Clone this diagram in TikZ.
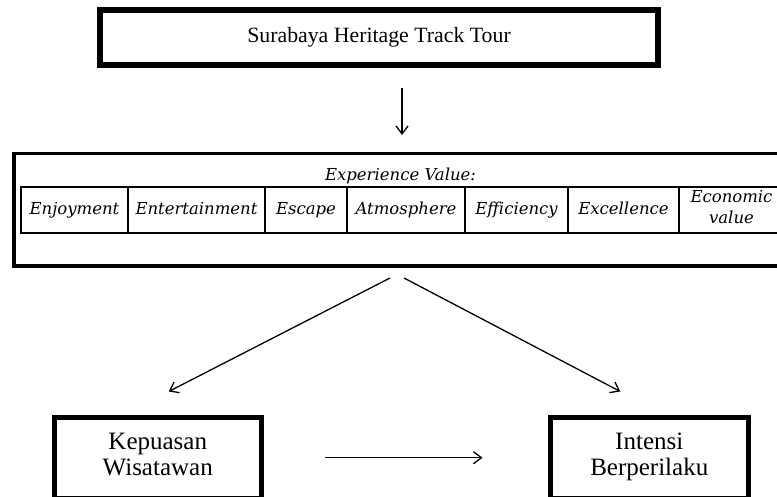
\documentclass[tikz,border=0pt]{standalone}
\usepackage{fontspec}
\setmainfont{Liberation Serif}
\newfontfamily\cellfont{DejaVu Serif}
\usetikzlibrary{arrows.meta, positioning, calc}

\begin{document}
\begin{tikzpicture}[x=1pt, y=-1pt,
    heavybox/.style={rectangle, draw, line width=6pt, align=center, inner sep=0pt},
    framebox/.style={rectangle, draw, line width=3.5pt, inner sep=0pt},
    cell/.style={rectangle, draw, line width=1.3pt, minimum height=46pt, inner sep=0pt, outer sep=0pt, align=center, font=\cellfont\itshape\fontsize{16.5}{21}\selectfont, execute at begin node=\strut},
    arr/.style={-{Straight Barb[length=8pt, width=12pt]}, line width=1.3pt}
]
\clip (0,0) rectangle (777,497);
\node[heavybox, minimum width=558pt, minimum height=55pt, font=\fontsize{21.8}{26}\selectfont] (tour) at (379,37.5) {Surabaya Heritage Track Tour};

\node[framebox, minimum width=776pt, minimum height=112.5pt] (exp) at (402,210) {};
\node[anchor=base, font=\cellfont\itshape\fontsize{16.5}{20}\selectfont] (evlabel) at (400.5,181) {Experience Value:};
\node[cell, minimum width=107pt] (enjoy) at (74.5,210) {Enjoyment};
\node[cell, minimum width=137pt, right=0pt of enjoy] (entertain) {Entertainment};
\node[cell, minimum width=82pt, right=0pt of entertain] (escape) {Escape};
\node[cell, minimum width=118pt, right=0pt of escape] (atmos) {Atmosphere};
\node[cell, minimum width=103pt, right=0pt of atmos] (effic) {Efficiency};
\node[cell, minimum width=111pt, right=0pt of effic] (excel) {Excellence};
\node[cell, minimum width=105pt, right=0pt of excel] (econ) {Economic\\value};

\node[heavybox, line width=5pt, minimum width=206.5pt, minimum height=81.5pt, font=\fontsize{25}{26}\selectfont] (kep) at (157.75,457.75) {\strut Kepuasan\\Wisatawan\strut};
\node[heavybox, line width=5pt, minimum width=198.5pt, minimum height=81.5pt, font=\fontsize{25}{26}\selectfont] (int) at (649.25,457.75) {\strut Intensi\\Berperilaku\strut};

\draw[arr, shorten <=20pt, shorten >=17pt] (tour.south -| exp.north) -- (exp.north);
\draw[arr] ($(exp.south)+(-12,10)$) -- ($(kep.north)+(11,-23)$);
\draw[arr] ($(exp.south)+(2,10)$) -- ($(int.north)+(-29,-23)$);
\draw[arr, shorten <=61pt, shorten >=65pt] (kep.east) -- (int.west);
\end{tikzpicture}
\end{document}
